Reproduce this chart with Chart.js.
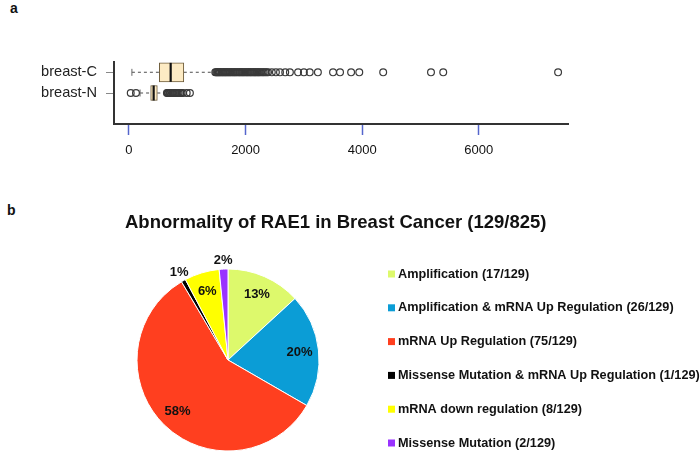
<!DOCTYPE html>
<html>
<head>
<meta charset="utf-8">
<script src="https://cdn.jsdelivr.net/npm/chart.js@4.4.1/dist/chart.umd.min.js"></script>
<style>
    html, body { margin: 0; padding: 0; background: #fff; }
    #wrap { position: relative; width: 700px; height: 455px; overflow: hidden; font-family: "Liberation Sans", Arial, sans-serif; }
    .panel { position: absolute; font-size: 14px; font-weight: bold; color: #111; }
    #pieTitle { position: absolute; left: 125px; top: 211px; font-size: 18.5px; font-weight: bold; color: #111; white-space: nowrap; }
    #boxCanvas { position: absolute; left: 0; top: 0; }
    #pieCanvas { position: absolute; left: 0; top: 190px; }
</style>
</head>
<body>
<div id="wrap">
    <div class="panel" style="top:0px;left:10px">a</div>
    <div class="panel" style="top:202px;left:7px">b</div>
    <canvas id="boxCanvas" width="700" height="190"></canvas>
    <canvas id="pieCanvas" width="700" height="265"></canvas>
    <div id="pieTitle"></div>
</div>
<script>
// --- dane: wykres pudełkowy (a) ---
const groups = ['breast-C', 'breast-N'];
const lowWhisker = [50, 190];
const q1 = [520, 372];
const medians = [715, 423];
const q3 = [940, 486];
const highWhisker = [1418, 590];
const outliersC = [
    1480, 1495, 1510, 1525, 1540, 1555, 1570, 1590, 1605, 1620, 1640, 1655, 1670, 1690,
    1705, 1725, 1740, 1760, 1780, 1795, 1815, 1830, 1850, 1870, 1890, 1905, 1925, 1945,
    1960, 1980, 2000, 2020, 2035, 2055, 2075, 2090, 2110, 2130, 2150, 2165, 2185, 2205,
    2225, 2240, 2265, 2290, 2310, 2335, 2360, 2385, 2450, 2520, 2590, 2680, 2760, 2900,
    3000, 3100, 3240, 3500, 3620, 3810, 3950, 4360, 5180, 5390, 7360
];
const outliersN = [30, 120, 650, 665, 680, 700, 715, 735, 750, 770, 790, 810, 830, 850, 875, 900, 925, 990, 1045];
const xTicks = [0, 2000, 4000, 6000];

// --- dane: wykres kołowy (b) ---
const pieTitle = 'Abnormality of RAE1 in Breast Cancer (129/825)';
const categories = [
    'Amplification',
    'Amplification & mRNA Up Regulation',
    'mRNA Up Regulation',
    'Missense Mutation & mRNA Up Regulation',
    'mRNA down regulation',
    'Missense Mutation'
];
const counts = [17, 26, 75, 1, 8, 2];
const pieColors = ['#DDF96C', '#0B9DD6', '#FF3F1F', '#000000', '#FFFF00', '#9933FF'];

const FONT = '"Liberation Sans", Arial, sans-serif';
Chart.defaults.font.family = FONT;
Chart.defaults.animation = false;

function renderBoxPlot() {
    const ctx = document.getElementById('boxCanvas').getContext('2d');
    const boxThickness = [19, 15];
    const datasets = [];

    // punkty odstające
    datasets.push({
        type: 'scatter',
        data: outliersC.map(v => ({ x: v, y: 1 })).concat(outliersN.map(v => ({ x: v, y: 2 }))),
        pointStyle: 'circle',
        pointRadius: 3.4,
        borderWidth: 1.2,
        borderColor: '#3a3a3a',
        backgroundColor: 'rgba(0,0,0,0)'
    });
    // mediany
    groups.forEach((g, i) => {
        datasets.push({
            type: 'scatter',
            data: [{ x: medians[i], y: i + 1 }],
            pointStyle: 'line',
            rotation: 90,
            pointRadius: boxThickness[i] / 2,
            borderWidth: 2.2,
            borderColor: '#111'
        });
    });
    // końcówki wąsów
    datasets.push({
        type: 'scatter',
        data: groups.map((g, i) => ({ x: lowWhisker[i], y: i + 1 })),
        pointStyle: 'line',
        rotation: 90,
        pointRadius: 3.5,
        borderWidth: 1,
        borderColor: '#666'
    });
    // pudełka
    groups.forEach((g, i) => {
        datasets.push({
            type: 'bar',
            indexAxis: 'y',
            grouped: false,
            barThickness: boxThickness[i],
            data: [{ x: [q1[i], q3[i]], y: i + 1 }],
            backgroundColor: '#FDEBC4',
            borderColor: '#6e5c3c',
            borderWidth: 1,
            borderSkipped: false
        });
    });
    // wąsy (linie przerywane)
    groups.forEach((g, i) => {
        [[lowWhisker[i], q1[i]], [q3[i], highWhisker[i]]].forEach(seg => {
            datasets.push({
                type: 'line',
                data: [{ x: seg[0], y: i + 1 }, { x: seg[1], y: i + 1 }],
                borderColor: '#777',
                borderWidth: 1.3,
                borderDash: [3, 3],
                pointRadius: 0
            });
        });
    });

    new Chart(ctx, {
        type: 'scatter',
        data: { datasets: datasets },
        options: {
            responsive: false,
            layout: { padding: { left: 0, right: 132, top: 62, bottom: 0 } },
            plugins: { legend: { display: false }, tooltip: { enabled: false } },
            scales: {
                x: {
                    type: 'linear',
                    min: -257,
                    max: 7530,
                    offset: false,
                    afterBuildTicks: axis => { axis.ticks = xTicks.map(v => ({ value: v })); },
                    afterFit: axis => { axis.height = 66; },
                    grid: { drawOnChartArea: false, offset: false, tickLength: 11, tickColor: '#5566cc', tickWidth: 1.5 },
                    border: { color: '#333', width: 2 },
                    ticks: { color: '#111', font: { size: 13 }, padding: 8, callback: v => String(v) }
                },
                y: {
                    type: 'linear',
                    reverse: true,
                    min: 0.5,
                    max: 3.5,
                    offset: false,
                    afterBuildTicks: axis => { axis.ticks = groups.map((g, i) => ({ value: i + 1 })); },
                    afterFit: axis => { axis.width = 114; },
                    grid: { drawOnChartArea: false, offset: false, tickLength: 8, tickColor: '#888' },
                    border: { color: '#333', width: 2 },
                    ticks: {
                        color: '#222',
                        font: { size: 14.6 },
                        padding: 9,
                        callback: v => groups[v - 1]
                    }
                }
            }
        }
    });
}

// etykiety procentowe na wycinkach
const pieLabelsPlugin = {
    id: 'pieLabels',
    afterDatasetsDraw(chart) {
        const c = chart.ctx;
        const total = counts.reduce((a, b) => a + b, 0);
        const meta = chart.getDatasetMeta(0);
        c.save();
        c.font = 'bold 13px ' + FONT;
        c.fillStyle = '#111';
        c.textAlign = 'center';
        c.textBaseline = 'middle';
        meta.data.forEach((arc, i) => {
            const p = arc.getProps(['x', 'y', 'startAngle', 'endAngle', 'outerRadius']);
            const mid = (p.startAngle + p.endAngle) / 2;
            const pct = Math.round(counts[i] / total * 100);
            const r = pct < 3 ? p.outerRadius + 9 : p.outerRadius * 0.79;
            c.fillText(pct + '%', p.x + Math.cos(mid) * r, p.y + Math.sin(mid) * r);
        });
        c.restore();
    }
};

// legenda po prawej stronie
const sideLegendPlugin = {
    id: 'sideLegend',
    afterDraw(chart) {
        const c = chart.ctx;
        const arc = chart.getDatasetMeta(0).data[0];
        const cx = arc.x, cy = arc.y;
        const x0 = cx + 160;
        const step = 33.8;
        c.save();
        c.font = 'bold 12.7px ' + FONT;
        c.textAlign = 'left';
        c.textBaseline = 'middle';
        categories.forEach((cat, i) => {
            const y = cy - 86 + i * step;
            c.fillStyle = pieColors[i];
            c.fillRect(x0, y - 3.5, 7, 7);
            c.fillStyle = '#111';
            c.fillText(cat + ' (' + counts[i] + '/129)', x0 + 10, y);
        });
        c.restore();
    }
};

function renderPieChart() {
    document.getElementById('pieTitle').textContent = pieTitle;
    const ctx = document.getElementById('pieCanvas').getContext('2d');
    new Chart(ctx, {
        type: 'pie',
        data: {
            labels: categories,
            datasets: [{
                data: counts,
                backgroundColor: pieColors,
                borderColor: '#fff',
                borderWidth: 1
            }]
        },
        options: {
            responsive: false,
            radius: 91,
            layout: { padding: { left: 125, right: 369, top: 78, bottom: 3 } },
            plugins: {
                legend: { display: false },
                tooltip: { enabled: false }
            }
        },
        plugins: [pieLabelsPlugin, sideLegendPlugin]
    });
}

renderBoxPlot();
renderPieChart();
</script>
</body>
</html>
